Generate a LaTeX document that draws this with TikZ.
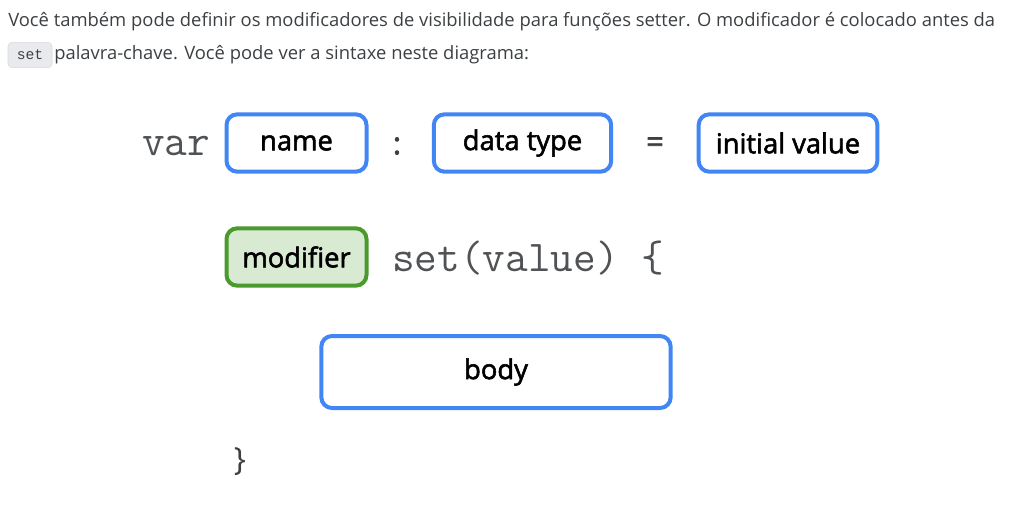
\documentclass[tikz,border=0pt]{standalone}
\usepackage{fontspec}
\setmainfont{Open Sans}
\newfontfamily\boxfont{Open Sans}[FakeBold=2]
\newfontfamily\kwfont{Liberation Mono}
\usetikzlibrary{positioning}
\definecolor{gblue}{HTML}{4285F4}
\definecolor{ggreen}{HTML}{4A9A2E}
\definecolor{gfill}{HTML}{D9EAD3}
\definecolor{gtext}{HTML}{3C4043}
\definecolor{codegray}{HTML}{E8EAED}

\begin{document}
\begin{tikzpicture}[
    x=0.75pt, y=-0.75pt,
    field/.style={rectangle, draw=gblue, line width=3pt, rounded corners=8pt,
                  fill=white, inner sep=0pt, font=\boxfont\fontsize{20.5}{22}\selectfont},
    modbox/.style={field, draw=ggreen, fill=gfill},
    code/.style={font=\ttfamily\fontsize{33}{36}\selectfont, text=gtext!90, inner sep=0pt},
    sym/.style={font=\boxfont\fontsize{23}{25}\selectfont, text=gtext, inner sep=0pt},
    para/.style={font=\fontsize{13.8}{16}\selectfont, text=gtext, inner sep=0pt, anchor=base west}
]
\useasboundingbox (0,0) rectangle (1012,510);

% intro text
\node[para] (line1) at (8,27) {Você também pode definir os modificadores de visibilidade para funções setter. O modificador é colocado antes da};
\node[rectangle, fill=codegray, draw=gray!30, rounded corners=3pt, minimum width=33pt, minimum height=19pt,
      inner sep=0pt, font=\kwfont\fontsize{11}{13}\selectfont, text=gtext] (kw) at (30,55) {set};
\node[para] (line2) at (54,60) {palavra-chave. Você pode ver a sintaxe neste diagrama:};

% first row: declaration
\node[code, anchor=west] (var) at (142,146) {var};
\node[field, minimum width=105pt, minimum height=43pt] (name) at (296.5,143) {name};
\node[sym] (colon) at (397,146) {:};
\node[field, minimum width=133pt, minimum height=43pt] (dtype) at (522.5,143) {data type};
\node[sym] (eq) at (655,145) {=};
\node[field, minimum width=134pt, minimum height=43pt] (init) at (788,143) {initial value};

% second row: setter
\node[modbox, minimum width=105pt, minimum height=43pt] (mod) at (296.5,257) {modifier};
\node[code, anchor=west] (setter) at (392,258) {set(value) \{};

% body
\node[field, minimum width=262pt, minimum height=54pt] (body) at (496,372) {body};
\node[font=\fontsize{24}{26}\selectfont, text=gtext, inner sep=0pt] (close) at (240,462) {\}};
\end{tikzpicture}
\end{document}
